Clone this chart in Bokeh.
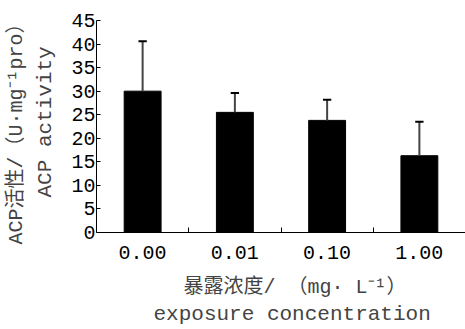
from bokeh.plotting import figure
from bokeh.models import ColumnDataSource, Range1d, FixedTicker, Title
from bokeh.embed import file_html
from bokeh.resources import INLINE

# data
categories = ["0.00", "0.01", "0.10", "1.00"]
activity = [30.0, 25.5, 23.8, 16.3]
activity_sd = [10.6, 4.1, 4.4, 7.2]
y_ticks = [0, 5, 10, 15, 20, 25, 30, 35, 40, 45]

xs = [i + 0.5 for i in range(len(categories))]
upper = [a + s for a, s in zip(activity, activity_sd)]
src = ColumnDataSource(dict(x=xs, top=activity, upper=upper,
                            cl=[x - 0.045 for x in xs], cr=[x + 0.045 for x in xs]))

MONO = "Liberation Mono, Noto Sans CJK SC"

p = figure(width=465, height=329, output_backend="svg", toolbar_location=None,
           x_range=Range1d(0, len(categories)), y_range=Range1d(0, 45),
           min_border_left=96, min_border_right=0, min_border_top=20, min_border_bottom=97)
p.outline_line_color = None
p.grid.visible = False
p.background_fill_color = "white"
p.border_fill_color = "white"

p.vbar(x="x", top="top", width=0.4, bottom=0, source=src, fill_color="black", line_color="black")
p.segment(x0="x", y0="top", x1="x", y1="upper", source=src, line_color="#444444", line_width=2)
p.segment(x0="cl", y0="upper", x1="cr", y1="upper", source=src, line_color="black", line_width=2)

# x axis
xa = p.xaxis[0]
xa.ticker = FixedTicker(ticks=xs, minor_ticks=[1, 2, 3])
xa.major_label_overrides = {x: c for x, c in zip(xs, categories)}
xa.major_tick_in = 0
xa.major_tick_out = 0
xa.minor_tick_in = 5
xa.minor_tick_out = 0
xa.minor_tick_line_color = "black"
xa.axis_line_color = "black"
xa.major_label_text_font = MONO
xa.major_label_text_font_size = "20px"
xa.major_label_text_color = "black"
xa.major_label_standoff = 13

# y axis
ya = p.yaxis[0]
ya.ticker = FixedTicker(ticks=y_ticks)
ya.major_tick_in = 4
ya.major_tick_out = 0
ya.minor_tick_in = 0
ya.minor_tick_out = 0
ya.major_tick_line_color = "black"
ya.axis_line_color = "black"
ya.major_label_text_font = MONO
ya.major_label_text_font_size = "20px"
ya.major_label_text_color = "black"
ya.major_label_standoff = 1

# axis titles
p.add_layout(Title(text="暴露浓度/ （mg· L⁻¹）", align="left", offset=87,
                   text_font=MONO, text_font_size="20px", text_font_style="normal",
                   standoff=24), "below")
p.add_layout(Title(text="exposure concentration", align="left", offset=57,
                   text_font="Liberation Mono", text_font_size="21px", text_font_style="normal",
                   standoff=-30), "below")
p.add_layout(Title(text="ACP activity", align="left", offset=35,
                   text_font="Liberation Mono", text_font_size="21px", text_font_style="normal",
                   standoff=24), "left")
p.add_layout(Title(text="ACP活性/（U·mg⁻¹pro）", align="left", offset=-12,
                   text_font=MONO, text_font_size="20px", text_font_style="normal",
                   standoff=-16), "left")

open("out.html", "w").write(file_html(p, INLINE))
